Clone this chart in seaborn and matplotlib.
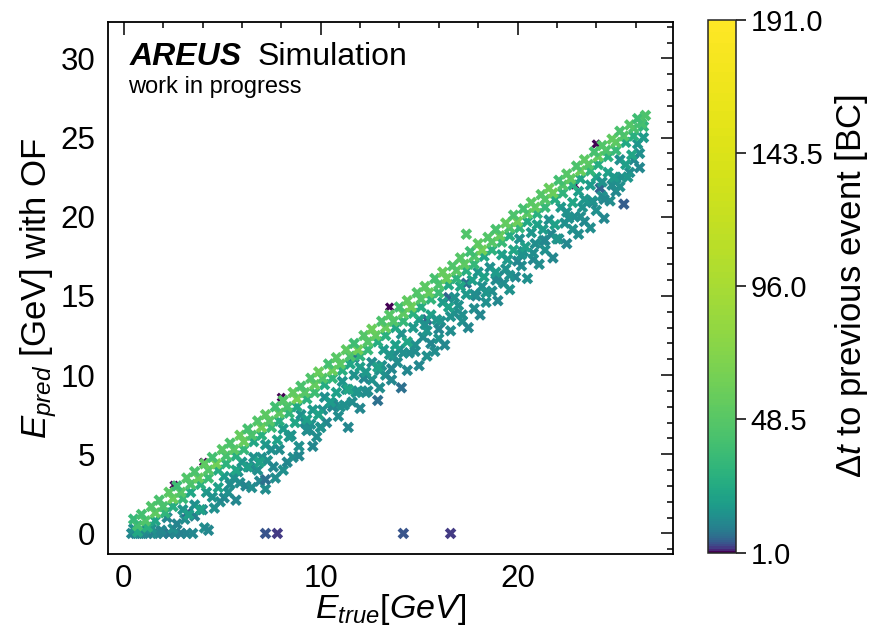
# E_pred vs E_true scatter, coloured by time to previous event
import numpy as np
import pandas as pd
import matplotlib
matplotlib.use("Agg")
import matplotlib.pyplot as plt
import matplotlib.colors as mcolors
from matplotlib.ticker import MultipleLocator
import seaborn as sns

sns.set_style("white")
plt.rcParams["font.family"] = ["Liberation Sans", "DejaVu Sans"]
plt.rcParams["mathtext.fontset"] = "custom"
plt.rcParams["mathtext.rm"] = "Liberation Sans"
plt.rcParams["mathtext.it"] = "Liberation Sans:italic"
plt.rcParams["mathtext.bf"] = "Liberation Sans:bold"
for key in ["text.color", "axes.labelcolor", "xtick.color", "ytick.color"]:
    plt.rcParams[key] = "black"

# ---- data (GeV, dt in BC) ----
# upper edge of the dense band
band_top_x = [0.5, 0.9, 1.4, 1.8, 2.3, 2.7, 3.2, 3.6, 4.1, 4.5, 5.0, 5.4, 5.9, 6.3, 6.8, 7.2, 7.7, 8.1, 8.6, 9.0,
              9.5, 9.9, 10.4, 10.8, 11.3, 11.7, 12.2, 12.6, 13.1, 13.5, 14.0, 14.4, 14.9, 15.3, 15.8, 16.2, 16.7, 17.1, 17.6, 18.0,
              18.5, 18.9, 19.4, 19.8, 20.3, 20.7, 21.2, 21.6, 22.1, 22.5, 23.0, 23.4, 23.9, 24.3, 24.8, 25.2, 25.7, 26.1, 26.5]
band_top_y = [0.9, 1.2, 1.7, 2.1, 2.6, 3.0, 3.5, 3.9, 4.4, 4.8, 5.3, 5.7, 6.2, 6.6, 7.1, 7.5, 8.0, 8.4, 8.9, 9.3,
              9.8, 10.2, 10.7, 11.1, 11.6, 12.0, 12.5, 12.9, 13.4, 13.8, 14.3, 14.7, 15.2, 15.6, 16.1, 16.5, 16.9, 17.4, 17.8, 18.3,
              18.7, 19.2, 19.6, 20.1, 20.5, 20.9, 21.4, 21.8, 22.3, 22.7, 23.2, 23.6, 24.1, 24.5, 24.9, 25.4, 25.8, 26.2, 26.4]
band_top_dt = [34, 40, 45, 42, 50, 38, 46, 43, 52, 40, 48, 44, 55, 41, 46, 51, 39, 47, 53, 42,
               45, 56, 40, 49, 52, 38, 47, 58, 43, 48, 40, 53, 46, 50, 41, 55, 45, 48, 38, 52,
               47, 42, 54, 44, 40, 50, 47, 56, 39, 48, 44, 51, 41, 46, 53, 42, 47, 38, 44]

# middle of the band
band_mid_x = [0.7, 1.1, 1.6, 2.0, 2.5, 2.9, 3.4, 3.8, 4.3, 4.7, 5.2, 5.6, 6.1, 6.5, 7.0, 7.4, 7.9, 8.3, 8.8, 9.2,
              9.7, 10.1, 10.6, 11.0, 11.5, 11.9, 12.4, 12.8, 13.3, 13.7, 14.2, 14.6, 15.1, 15.5, 16.0, 16.4, 16.9, 17.3, 17.8, 18.2,
              18.7, 19.1, 19.6, 20.0, 20.5, 20.9, 21.4, 21.8, 22.3, 22.7, 23.2, 23.6, 24.1, 24.5, 25.0, 25.4, 25.9, 26.3]
band_mid_y = [0.5, 0.8, 1.3, 1.7, 2.2, 2.6, 3.1, 3.5, 4.0, 4.4, 4.9, 5.3, 5.8, 6.2, 6.7, 7.1, 7.6, 8.0, 8.5, 8.9,
              9.4, 9.8, 10.3, 10.7, 11.2, 11.6, 12.1, 12.5, 13.0, 13.4, 13.9, 14.3, 14.8, 15.2, 15.7, 16.1, 16.6, 17.0, 17.5, 17.9,
              18.4, 18.8, 19.3, 19.7, 20.2, 20.6, 21.1, 21.5, 22.0, 22.4, 22.9, 23.3, 23.8, 24.2, 24.7, 25.1, 25.6, 25.9]
band_mid_dt = [40, 45, 52, 42, 57, 47, 43, 54, 46, 61, 41, 49, 56, 44, 59, 47, 51, 42, 63, 48,
               54, 45, 58, 50, 43, 60, 47, 53, 56, 45, 51, 59, 46, 54, 43, 57, 49, 52, 45, 61,
               48, 55, 44, 59, 50, 54, 46, 58, 45, 52, 56, 47, 53, 43, 50, 46, 41, 40]

# lower edge of the band
band_low_x = [0.7, 1.2, 1.6, 2.1, 2.5, 3.0, 3.4, 3.9, 4.3, 4.8, 5.2, 5.7, 6.1, 6.6, 7.0, 7.5, 7.9, 8.4, 8.8, 9.3,
              9.7, 10.2, 10.6, 11.1, 11.5, 12.0, 12.4, 12.9, 13.3, 13.8, 14.2, 14.7, 15.1, 15.6, 16.0, 16.5, 16.9, 17.4, 17.8, 18.3,
              18.7, 19.2, 19.6, 20.1, 20.5, 21.0, 21.4, 21.9, 22.3, 22.8, 23.2, 23.7, 24.1, 24.6, 25.0, 25.5, 25.9, 26.4]
band_low_y = [0.1, 0.4, 0.8, 1.3, 1.7, 2.2, 2.6, 3.1, 3.5, 4.0, 4.4, 4.9, 5.3, 5.8, 6.2, 6.7, 7.1, 7.6, 8.0, 8.5,
              8.9, 9.4, 9.8, 10.3, 10.7, 11.2, 11.6, 12.1, 12.5, 13.0, 13.4, 13.9, 14.3, 14.8, 15.2, 15.7, 16.1, 16.6, 17.0, 17.5,
              17.9, 18.4, 18.8, 19.3, 19.7, 20.2, 20.6, 21.1, 21.5, 22.0, 22.4, 22.9, 23.3, 23.8, 24.2, 24.7, 25.1, 25.7]
band_low_dt = [24, 28, 22, 31, 26, 34, 23, 29, 36, 25, 30, 27, 33, 22, 28, 35, 26, 31, 24, 29,
               37, 25, 32, 27, 23, 30, 34, 26, 29, 22, 33, 28, 25, 31, 36, 24, 30, 27, 33, 23,
               29, 35, 26, 31, 24, 28, 34, 25, 30, 27, 22, 32, 26, 29, 35, 24, 28, 31]

# teal points just under the band
near_x = [3.0, 3.3, 3.6, 3.9, 4.2, 4.5, 4.8, 5.1, 5.4, 5.7, 6.0, 6.3, 6.6, 6.9, 7.2, 7.5, 7.8, 8.1, 8.4, 8.7,
          9.0, 9.3, 9.6, 9.9, 10.2, 10.5, 10.8, 11.1, 11.4, 11.7, 12.0, 12.3, 12.6, 12.9, 13.2, 13.5, 13.8, 14.1, 14.4, 14.7,
          15.0, 15.3, 15.6, 15.9, 16.2, 16.5, 16.8, 17.1, 17.4, 17.7, 18.0, 18.3, 18.6, 18.9, 19.2, 19.5, 19.8, 20.1, 20.4, 20.7,
          21.0, 21.3, 21.6, 21.9, 22.2, 22.5, 22.8, 23.1, 23.4, 23.7, 24.0, 24.3, 24.6, 24.9, 25.2, 25.5, 25.8, 26.1, 26.4]
near_y = [1.5, 1.2, 1.8, 1.5, 2.6, 2.3, 2.9, 3.6, 3.1, 4.0, 4.5, 4.2, 4.8, 4.5, 5.6, 5.3, 5.9, 6.6, 6.1, 7.0,
          7.5, 7.2, 7.8, 7.5, 8.6, 8.3, 8.9, 9.6, 9.1, 10.0, 10.5, 10.2, 10.8, 10.5, 11.6, 11.3, 11.9, 12.6, 12.1, 13.0,
          13.5, 13.2, 13.8, 13.5, 14.6, 14.3, 14.9, 15.6, 15.1, 16.0, 16.5, 16.2, 16.8, 16.5, 17.6, 17.3, 17.9, 18.6, 18.1, 19.0,
          19.5, 19.2, 19.8, 19.5, 20.6, 20.3, 20.9, 21.6, 21.1, 22.0, 22.5, 22.2, 22.8, 22.5, 23.6, 23.3, 23.9, 24.6, 25.0]
near_dt = [16, 19, 14, 21, 17, 15, 20, 18, 13, 22, 16, 19, 15, 21, 17, 14, 20, 18, 16, 23,
           15, 19, 17, 21, 14, 18, 20, 16, 22, 15, 19, 17, 13, 21, 18, 16, 20, 15, 22, 17,
           19, 14, 21, 16, 18, 20, 15, 23, 17, 19, 16, 21, 14, 18, 20, 17, 22, 15, 19, 16,
           21, 18, 14, 20, 17, 15, 22, 19, 16, 18, 21, 15, 20, 17, 14, 19, 22, 16, 18]

# second teal layer, a little deeper
deep_x = [9.4, 10.0, 10.6, 11.2, 11.8, 12.4, 13.0, 13.6, 14.2, 14.8, 15.4, 16.0, 16.6, 17.2, 17.8, 18.4, 19.0, 19.6,
          20.2, 20.8, 21.4, 22.0, 22.6, 23.2, 23.8, 24.4, 25.0, 25.6]
deep_y = [6.6, 6.7, 8.0, 8.1, 8.9, 9.0, 10.3, 10.4, 11.4, 11.5, 12.8, 12.9, 13.7, 13.8, 15.1, 15.2, 16.2, 16.3,
          17.6, 17.7, 18.5, 18.6, 19.9, 20.0, 21.0, 21.1, 22.4, 22.5]
deep_dt = [13, 15, 12, 14, 16, 13, 15, 12, 14, 13, 16, 12, 15, 14, 13, 16, 12, 14, 15, 13, 12, 16, 14, 13, 15, 12, 14, 16]

# sparse spray further below the band
far_x = [2.2, 2.7, 3.1, 3.6, 4.0, 4.6, 4.9, 5.1, 5.3, 5.6, 5.7, 5.9, 6.2, 6.5, 6.8, 6.9, 7.2, 7.2, 7.3, 7.6,
         7.7, 8.1, 8.3, 8.6, 8.9, 8.9, 9.3, 9.5, 9.6, 9.8, 10.0, 10.3, 10.9, 11.0, 11.4, 11.6, 11.9, 12.0, 12.3, 12.6,
         12.9, 13.0, 13.3, 13.6, 13.9, 14.0, 14.1, 14.4, 14.5, 14.8, 15.0, 15.2, 15.4, 15.6, 15.8, 16.0, 16.3, 16.6, 17.2, 17.5,
         17.8, 18.1, 18.4, 18.7, 19.0, 19.3, 19.6, 19.9, 20.2, 20.5, 20.8, 21.1, 21.4, 21.8, 22.1, 22.5, 22.8, 23.1, 23.4, 23.7,
         24.0, 24.4, 24.7, 25.0, 25.2, 25.7, 26.2, 26.2, 24.2, 25.4, 15.4, 16.5, 17.4, 11.7, 3.25,
         16.1, 16.8, 17.0, 17.9, 18.2, 18.9, 19.4, 20.0, 20.3, 20.9, 21.3, 21.7, 22.4, 22.9, 23.3, 23.8, 24.3, 24.8, 25.3, 25.9,
         13.7, 13.1, 12.2, 11.3, 10.6, 10.1, 9.2, 8.5, 7.9, 7.0, 6.4, 5.8]
far_y = [1.0, 0.6, 0.9, 1.1, 1.5, 1.6, 2.0, 2.25, 2.6, 3.5, 2.1, 3.2, 3.0, 2.9, 4.0, 3.3, 2.8, 3.4, 4.6, 4.2,
         3.5, 4.0, 4.5, 4.8, 4.9, 5.5, 6.5, 6.9, 5.5, 6.1, 6.7, 7.0, 7.4, 8.0, 6.7, 8.3, 9.0, 7.9, 8.9, 9.7,
         8.4, 9.2, 10.0, 9.7, 10.8, 11.6, 9.2, 10.3, 11.4, 11.9, 10.6, 12.4, 11.2, 12.0, 11.5, 12.3, 11.9, 12.8, 13.4, 13.0,
         14.2, 13.8, 14.6, 15.3, 14.7, 15.8, 15.4, 16.2, 16.9, 16.1, 17.3, 17.0, 17.9, 17.4, 18.6, 18.3, 19.2, 18.9, 19.7, 19.3,
         20.4, 19.9, 21.0, 21.6, 21.9, 22.8, 23.1, 24.0, 21.8, 20.8, 13.5, 14.9, 15.8, 11.1, 1.3,
         13.4, 13.9, 14.4, 15.0, 15.6, 16.0, 16.7, 17.2, 17.8, 18.3, 18.5, 18.9, 19.6, 20.0, 20.6, 20.9, 21.3, 22.0, 22.5, 23.6,
         11.2, 10.6, 9.8, 9.1, 8.2, 7.8, 7.0, 6.2, 5.3, 4.8, 4.2, 3.9]
far_dt = [12, 11, 13, 10, 12, 14, 13, 12, 14, 15, 12, 13, 11, 13, 14, 12, 13, 7, 15, 12,
          13, 14, 12, 13, 12, 14, 13, 15, 12, 13, 14, 12, 13, 15, 12, 13, 14, 12, 13, 15,
          7, 13, 14, 12, 13, 15, 7, 12, 13, 14, 12, 13, 14, 12, 13, 15, 12, 13, 14, 12,
          13, 12, 14, 13, 12, 13, 15, 12, 13, 14, 12, 13, 14, 12, 13, 12, 14, 13, 12, 13,
          14, 12, 13, 12, 14, 13, 12, 14, 6, 5, 6, 6, 7, 8, 6,
          14, 13, 15, 12, 14, 13, 15, 12, 14, 13, 15, 12, 14, 13, 15, 12, 14, 13, 15, 12,
          13, 14, 12, 15, 13, 14, 12, 15, 13, 14, 12, 13]

# points reconstructed at (almost) zero energy
zero_x = [0.4, 0.6, 0.8, 1.0, 1.2, 1.5, 1.7, 2.0, 2.3, 2.6, 2.9, 3.2, 3.5, 4.1, 4.3, 0.5, 0.9, 1.4, 1.9, 2.5,
          7.2, 7.8, 14.2, 16.6]
zero_y = [0.0, 0.0, 0.0, 0.0, 0.0, 0.0, 0.0, 0.0, 0.0, 0.0, 0.0, 0.0, 0.0, 0.35, 0.2, 0.3, 0.25, 0.3, 0.2, 0.3,
          0.0, 0.0, 0.0, 0.0]
zero_dt = [12, 10, 13, 11, 12, 10, 13, 11, 9, 12, 10, 11, 12, 13, 12, 14, 13, 15, 12, 14,
           4, 2.5, 4, 3]

# dt = 1 events sitting on the band, and one high outlier
dark_x = [2.55, 4.05, 8.0, 13.5, 22.9, 24.0]
dark_y = [3.05, 4.5, 8.6, 14.3, 22.0, 24.6]
dark_dt = [1, 1, 1, 1, 1, 1]
out_x = [17.4]
out_y = [18.9]
out_dt = [45]

cbar_ticks = [1.0, 48.5, 96.0, 143.5, 191.0]

# ---- build one table, in drawing order ----
groups = [(zero_x, zero_y, zero_dt), (far_x, far_y, far_dt), (deep_x, deep_y, deep_dt),
          (near_x, near_y, near_dt), (band_low_x, band_low_y, band_low_dt),
          (band_mid_x, band_mid_y, band_mid_dt), (band_top_x, band_top_y, band_top_dt),
          (out_x, out_y, out_dt)]
df = pd.concat([pd.DataFrame({"E_true": gx, "E_pred": gy, "dt": gd}) for gx, gy, gd in groups],
               ignore_index=True)
dark = pd.DataFrame({"E_true": dark_x, "E_pred": dark_y, "dt": dark_dt})

# viridis, but spread logarithmically along a linear colour bar
vmin, vmax = 1, 191
lev = np.linspace(vmin, vmax, 256)
cmap = mcolors.ListedColormap(plt.get_cmap("viridis")(np.log(lev) / np.log(vmax)))
norm = mcolors.Normalize(vmin, vmax)

fig = plt.figure(figsize=(8.79, 6.36), dpi=100)
ax = fig.add_axes([0.1229, 0.1289, 0.6428, 0.8365])

sns.scatterplot(data=dark, x="E_true", y="E_pred", hue="dt", palette=cmap, hue_norm=norm,
                marker="X", s=45, linewidth=0, legend=False, ax=ax)
sns.scatterplot(data=df, x="E_true", y="E_pred", hue="dt", palette=cmap, hue_norm=norm,
                marker="X", s=70, linewidth=0, legend=False, ax=ax)

ax.set_xlim(-0.8, 27.9)
ax.set_ylim(-1.3, 32.3)
ax.xaxis.set_major_locator(MultipleLocator(10))
ax.xaxis.set_minor_locator(MultipleLocator(2))
ax.yaxis.set_major_locator(MultipleLocator(5))
ax.yaxis.set_minor_locator(MultipleLocator(1))
ax.tick_params(which="both", direction="in", top=True, right=True, labelsize=22.5, width=1.1, pad=9)
ax.tick_params(axis="x", which="both", pad=7)
ax.tick_params(which="major", length=9)
ax.tick_params(which="minor", length=4)
for sp in ax.spines.values():
    sp.set_linewidth(1.3)
    sp.set_color("black")

ax.set_xlabel(r"$E_{true}[GeV]$", fontsize=24.5, labelpad=-1)
ax.set_ylabel(r"$E_{pred}$ [GeV] with OF", fontsize=25, labelpad=1)

ax.text(0.039, 0.919, "AREUS", transform=ax.transAxes, fontsize=23, fontweight="bold",
        fontstyle="italic", va="baseline")
ax.text(0.265, 0.919, "Simulation", transform=ax.transAxes, fontsize=23, va="baseline")
ax.text(0.035, 0.866, "work in progress", transform=ax.transAxes, fontsize=17, va="baseline")

cax = fig.add_axes([0.806, 0.131, 0.031, 0.838])
sm = plt.cm.ScalarMappable(norm=norm, cmap=cmap)
cb = fig.colorbar(sm, cax=cax)
cb.set_ticks(cbar_ticks)
cb.set_ticklabels([f"{t:.1f}" for t in cbar_ticks])
cb.outline.set_linewidth(1.1)
cax.tick_params(direction="out", length=7, width=1.1, labelsize=21)
cb.set_label(r"$\Delta t$ to previous event [BC]", fontsize=25, labelpad=7)

fig.savefig("out.png", dpi=100)
